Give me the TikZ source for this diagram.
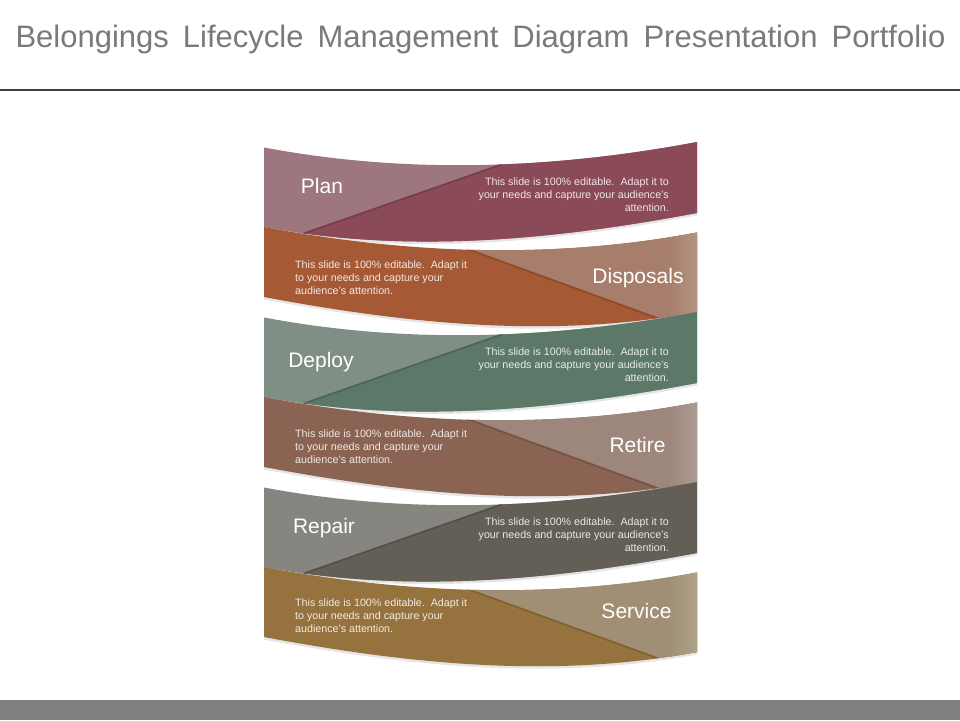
\documentclass[tikz,border=0pt]{standalone}
\usepackage{fontspec}
\setmainfont{Liberation Sans}
\definecolor{titlegray}{HTML}{7A7A7A}
\definecolor{rulegray}{HTML}{404040}
\definecolor{bargray}{HTML}{7F7F7F}
\definecolor{cAd}{HTML}{8B4A57}\definecolor{cAl}{HTML}{9E7680}
\definecolor{cBd}{HTML}{A55A35}\definecolor{cBl}{HTML}{A67E6B}
\definecolor{cCd}{HTML}{5B7868}\definecolor{cCl}{HTML}{808F85}
\definecolor{cDd}{HTML}{8B6352}\definecolor{cDl}{HTML}{9D877C}
\definecolor{cEd}{HTML}{645F56}\definecolor{cEl}{HTML}{868580}
\definecolor{cFd}{HTML}{96733E}\definecolor{cFl}{HTML}{A08F74}
\newcommand{\bandshape}[4]{(264,#1) .. controls (408,#1+27) and (553,#2+27) .. (697,#2) -- (697,#4) .. controls (553,#4+27) and (408,#3+27) .. (264,#3) -- cycle}
\newcommand{\oddband}[3]{%
  \fill[black, opacity=0.10] \bandshape{147.5+#1+2.5}{142+#1+2.5}{227+#1+2.5}{213+#1+2.5};
  \fill[#3] \bandshape{147.5+#1}{142+#1}{227+#1}{213+#1};
  \begin{scope}
    \clip \bandshape{147.5+#1}{142+#1}{227+#1}{213+#1};
    \fill[#2] (246.5,252.4+#1) -- (597.5,130+#1) -- (720,120+#1) -- (720,330+#1) -- (246.5,330+#1) -- cycle;
    \draw[black, opacity=0.16, line width=1.4pt] (246.5,253.6+#1) -- (597.5,131.2+#1);
  \end{scope}}
\newcommand{\evenband}[3]{%
  \fill[black, opacity=0.10] \bandshape{227+#1+2.5}{232.5+#1+2.5}{297+#1+2.5}{312+#1+2.5};
  \fill[#2] \bandshape{227+#1}{232.5+#1}{297+#1}{312+#1};
  \begin{scope}
    \clip \bandshape{227+#1}{232.5+#1}{297+#1}{312+#1};
    \fill[#3] (374.5,214+#1) -- (748.5,350+#1) -- (760,200+#1) -- cycle;
    \draw[black, opacity=0.16, line width=1.4pt] (374.5,215.4+#1) -- (748.5,351.4+#1);
    \shade[left color=#3, right color=#3!84!white] (668,200+#1) rectangle (697,330+#1);
  \end{scope}}
\tikzset{
  bandlabel/.style={text=white, font=\fontsize{21}{25}\selectfont, inner sep=0pt, anchor=base},
  bodyright/.style={text=white, text opacity=0.86, font=\fontsize{10.7}{13}\selectfont, align=right, anchor=north east, inner sep=0pt},
  bodyleft/.style={text=white, text opacity=0.86, font=\fontsize{10.7}{13}\selectfont, align=left, anchor=north west, inner sep=0pt},
}
\begin{document}
\begin{tikzpicture}[x=1pt, y=-1pt]
\useasboundingbox (0,0) rectangle (960,720);
\fill[white] (0,0) rectangle (960,720);
% title and rules
\node[text=titlegray, font=\fontsize{31}{36}\selectfont, anchor=base, inner sep=0pt] (title) at (480.5,47)
  {\spaceskip=14pt Belongings Lifecycle Management Diagram Presentation Portfolio};
\draw[rulegray, line width=2.5pt] (0,90) -- (960,90);
\fill[bargray] (0,700) rectangle (960,720);
% bands
\oddband{0}{cAd}{cAl}
\evenband{0}{cBd}{cBl}
\oddband{170}{cCd}{cCl}
\evenband{170}{cDd}{cDl}
\oddband{340}{cEd}{cEl}
\evenband{340}{cFd}{cFl}
% labels
\node[bandlabel] (plan) at (322,193) {Plan};
\node[bandlabel] (disposals) at (638,283) {Disposals};
\node[bandlabel] (deploy) at (321,367) {Deploy};
\node[bandlabel] (retire) at (637.5,452) {Retire};
\node[bandlabel] (repair) at (324,533) {Repair};
\node[bandlabel] (service) at (636.5,618) {Service};
% body texts
\node[bodyright] (t1) at (669,178) {This slide is 100\% editable.\ \ Adapt it to\\your needs and capture your audience's\\attention.};
\node[bodyleft] (t2) at (295,261) {This slide is 100\% editable.\ \ Adapt it\\to your needs and capture your\\audience's attention.};
\node[bodyright] (t3) at (669,348) {This slide is 100\% editable.\ \ Adapt it to\\your needs and capture your audience's\\attention.};
\node[bodyleft] (t4) at (295,430) {This slide is 100\% editable.\ \ Adapt it\\to your needs and capture your\\audience's attention.};
\node[bodyright] (t5) at (669,518) {This slide is 100\% editable.\ \ Adapt it to\\your needs and capture your audience's\\attention.};
\node[bodyleft] (t6) at (295,599) {This slide is 100\% editable.\ \ Adapt it\\to your needs and capture your\\audience's attention.};
\end{tikzpicture}
\end{document}
